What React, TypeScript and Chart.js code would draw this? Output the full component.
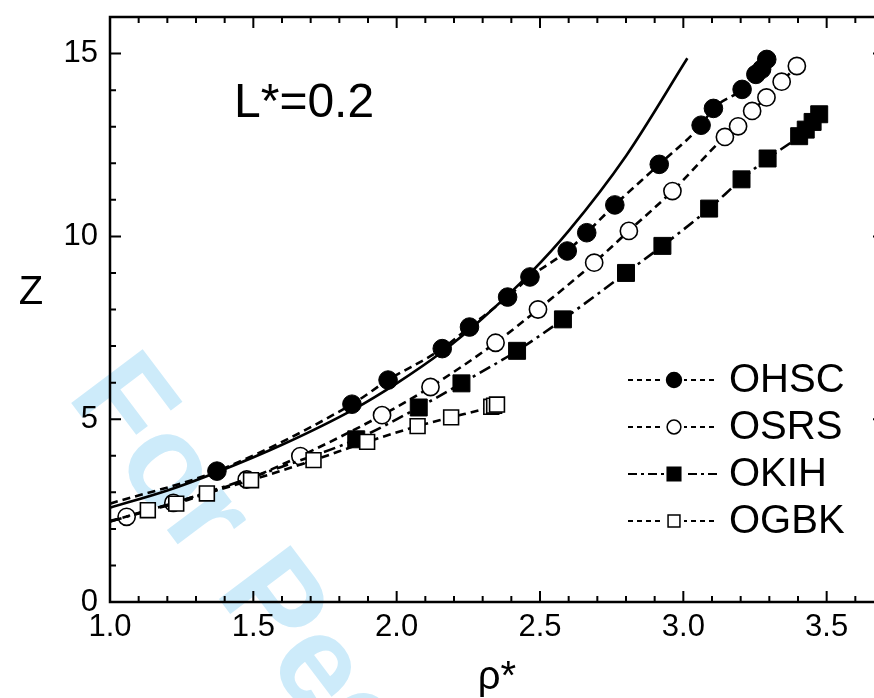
import React, { useEffect, useRef } from 'react';
import { Chart, registerables } from 'chart.js';

Chart.register(...registerables);

const FONT = '"Liberation Sans", Arial, Helvetica, sans-serif';

// ---- tick labels ----
const xTicks = [1.0, 1.5, 2.0, 2.5, 3.0, 3.5];
const yTicks = [0, 5, 10, 15];
const xMin = 1.0;
const xMax = 3.7;
const yMin = 0;
const yMax = 16;

// ---- theory curve (solid) ----
const theoryX = [1.0, 1.2, 1.373, 1.6, 1.85, 2.0, 2.16, 2.3, 2.467, 2.6, 2.8, 3.014];
const theoryY = [2.58, 3.05, 3.55, 4.3, 5.27, 5.98, 6.85, 7.76, 9.0, 10.15, 12.2, 14.87];

// ---- OHSC (filled circles) ----
const ohscLeadX = [1.0];
const ohscLeadY = [2.69];
const ohscX = [1.373, 1.844, 1.97, 2.159, 2.254, 2.387, 2.465, 2.595, 2.663, 2.761, 2.916, 3.062, 3.105, 3.205, 3.253, 3.273, 3.291];
const ohscY = [3.58, 5.41, 6.07, 6.93, 7.52, 8.34, 8.89, 9.6, 10.1, 10.86, 11.97, 13.04, 13.5, 14.02, 14.43, 14.57, 14.84];

// ---- OSRS (open circles) ----
const osrsLeadX = [1.0];
const osrsLeadY = [2.22];
const osrsX = [1.058, 1.221, 1.477, 1.664, 1.949, 2.118, 2.345, 2.493, 2.689, 2.81, 2.962, 3.145, 3.191, 3.24, 3.29, 3.343, 3.396];
const osrsY = [2.33, 2.71, 3.35, 3.99, 5.11, 5.88, 7.09, 8.0, 9.28, 10.15, 11.24, 12.72, 13.01, 13.43, 13.8, 14.23, 14.66];

// ---- OKIH (filled squares) ----
const okihLeadX = [1.0, 1.3, 1.6];
const okihLeadY = [2.2, 2.9, 3.7];
const okihX = [1.859, 2.077, 2.226, 2.42, 2.58, 2.8, 2.927, 3.09, 3.203, 3.294, 3.404, 3.427, 3.451, 3.474];
const okihY = [4.45, 5.32, 5.98, 6.87, 7.73, 9.0, 9.74, 10.76, 11.56, 12.13, 12.74, 12.92, 13.13, 13.34];

// ---- OGBK (open squares) ----
const ogbkLeadX = [1.0];
const ogbkLeadY = [2.2];
const ogbkX = [1.132, 1.231, 1.338, 1.492, 1.71, 1.897, 2.073, 2.19, 2.33, 2.34, 2.35];
const ogbkY = [2.51, 2.69, 2.97, 3.33, 3.88, 4.38, 4.81, 5.05, 5.34, 5.37, 5.4];

const legendLabels = ['OHSC', 'OSRS', 'OKIH', 'OGBK'];

type Style = { shape: 'circle' | 'rect'; filled: boolean; r: number; dash: number[] };
const styles: Style[] = [
  { shape: 'circle', filled: true, r: 9.3, dash: [8, 5] },
  { shape: 'circle', filled: false, r: 8.6, dash: [8, 5] },
  { shape: 'rect', filled: true, r: 12, dash: [12, 5, 3, 5] },
  { shape: 'rect', filled: false, r: 10.5, dash: [8, 5] },
];

function series(leadX: number[], leadY: number[], xs: number[], ys: number[], st: Style, order: number) {
  const data = [
    ...leadX.map((x, i) => ({ x, y: leadY[i] })),
    ...xs.map((x, i) => ({ x, y: ys[i] })),
  ];
  const n = leadX.length;
  return {
    data,
    showLine: true,
    borderColor: '#000',
    borderWidth: 2.6,
    borderDash: st.dash,
    cubicInterpolationMode: 'monotone' as const,
    pointStyle: st.shape,
    pointRadius: (c: any) => (c.dataIndex < n ? 0 : st.r),
    pointBackgroundColor: st.filled ? '#000' : '#fff',
    pointBorderColor: '#000',
    pointBorderWidth: st.filled ? 1 : 1.6,
    order,
  };
}

function drawMarker(ctx: CanvasRenderingContext2D, x: number, y: number, st: Style, scale: number) {
  ctx.save();
  ctx.setLineDash([]);
  ctx.fillStyle = st.filled ? '#000' : '#fff';
  ctx.strokeStyle = '#000';
  ctx.lineWidth = 1.5;
  ctx.beginPath();
  if (st.shape === 'circle') {
    ctx.arc(x, y, st.r * scale, 0, Math.PI * 2);
  } else {
    const h = st.r * Math.SQRT1_2 * scale;
    ctx.rect(x - h, y - h, 2 * h, 2 * h);
  }
  ctx.fill();
  ctx.stroke();
  ctx.restore();
}

const decor = {
  id: 'decor',
  beforeDraw(chart: any) {
    const ctx = chart.ctx as CanvasRenderingContext2D;
    ctx.save();
    ctx.translate(66, 396);
    ctx.rotate((53 * Math.PI) / 180);
    ctx.font = `bold 130px ${FONT}`;
    ctx.fillStyle = '#cdebfa';
    ctx.textBaseline = 'alphabetic';
    ctx.fillText('For Peer Review', 0, 0);
    ctx.restore();
  },
  afterDraw(chart: any) {
    const ctx = chart.ctx as CanvasRenderingContext2D;
    const { left, right, top, bottom } = chart.chartArea;
    const xs = chart.scales.x;
    const ys = chart.scales.y;
    ctx.save();
    ctx.strokeStyle = '#000';
    ctx.setLineDash([]);
    // ticks
    ctx.lineWidth = 2;
    ctx.beginPath();
    for (let i = 0; i <= Math.round((xMax - xMin) * 10); i++) {
      const v = xMin + i * 0.1;
      const major = xTicks.some((t) => Math.abs(t - v) < 1e-6);
      const len = major ? 11 : 6;
      const px = xs.getPixelForValue(v);
      ctx.moveTo(px, bottom);
      ctx.lineTo(px, bottom - len);
      ctx.moveTo(px, top);
      ctx.lineTo(px, top + len);
    }
    for (let v = yMin; v <= yMax; v++) {
      const major = yTicks.includes(v);
      const len = major ? 11 : 6;
      const py = ys.getPixelForValue(v);
      ctx.moveTo(left, py);
      ctx.lineTo(left + len, py);
      ctx.moveTo(right, py);
      ctx.lineTo(right - len, py);
    }
    ctx.stroke();
    // frame
    ctx.lineWidth = 2.5;
    ctx.strokeRect(left, top, right - left, bottom - top);

    // legend
    const rowY = [380, 427, 474, 521];
    legendLabels.forEach((lab, i) => {
      const st = styles[i];
      const y = rowY[i];
      ctx.save();
      ctx.lineWidth = 2.2;
      ctx.setLineDash(i === 2 ? [9, 4, 3, 4] : [5, 4]);
      ctx.beginPath();
      ctx.moveTo(628, y);
      ctx.lineTo(718, y);
      ctx.stroke();
      ctx.restore();
      ctx.fillStyle = '#fff';
      ctx.fillRect(664, y - 10, 20, 20);
      drawMarker(ctx, 674, y, st, 0.8);
      ctx.fillStyle = '#000';
      ctx.font = `40px ${FONT}`;
      ctx.textAlign = 'left';
      ctx.textBaseline = 'middle';
      ctx.fillText(lab, 729, y + 1);
    });

    // texts
    ctx.fillStyle = '#000';
    ctx.textBaseline = 'alphabetic';
    ctx.font = `48px ${FONT}`;
    ctx.textAlign = 'left';
    ctx.fillText('L*=0.2', 234, 117);
    ctx.font = `40px ${FONT}`;
    ctx.textAlign = 'center';
    ctx.fillText('Z', 31, 304);
    ctx.fillText('ρ*', 497, 689);
    ctx.restore();
  },
};

export default function App() {
  const ref = useRef<HTMLCanvasElement>(null);
  useEffect(() => {
    document.body.style.margin = '0';
    document.body.style.overflow = 'hidden';
    const canvas = ref.current!;
    const chart = new Chart(canvas, {
      type: 'scatter',
      data: {
        datasets: [
          {
            data: theoryX.map((x, i) => ({ x, y: theoryY[i] })),
            showLine: true,
            borderColor: '#000',
            borderWidth: 2.6,
            pointRadius: 0,
            cubicInterpolationMode: 'monotone',
            order: 5,
          } as any,
          series(ohscLeadX, ohscLeadY, ohscX, ohscY, styles[0], 4),
          series(osrsLeadX, osrsLeadY, osrsX, osrsY, styles[1], 3),
          series(okihLeadX, okihLeadY, okihX, okihY, styles[2], 2),
          series(ogbkLeadX, ogbkLeadY, ogbkX, ogbkY, styles[3], 1),
        ],
      },
      options: {
        responsive: false,
        animation: false,
        devicePixelRatio: 1,
        events: [],
        layout: { padding: { top: 17, right: 16, left: 0, bottom: 0 } },
        plugins: { legend: { display: false }, tooltip: { enabled: false } },
        scales: {
          x: {
            type: 'linear',
            min: xMin,
            max: xMax,
            grid: { display: false, drawTicks: false },
            border: { display: false },
            afterBuildTicks: (s: any) => {
              s.ticks = xTicks.map((v) => ({ value: v }));
            },
            afterFit: (s: any) => {
              s.height = 96;
              s.paddingLeft = 0;
              s.paddingRight = 0;
            },
            ticks: {
              padding: 7,
              color: '#000',
              font: { family: FONT, size: 31 },
              callback: (v: any) => Number(v).toFixed(1),
            },
          },
          y: {
            type: 'linear',
            min: yMin,
            max: yMax,
            grid: { display: false, drawTicks: false },
            border: { display: false },
            afterBuildTicks: (s: any) => {
              s.ticks = yTicks.map((v) => ({ value: v }));
            },
            afterFit: (s: any) => {
              s.width = 110;
              s.paddingTop = 0;
              s.paddingBottom = 0;
            },
            ticks: {
              padding: 12,
              color: '#000',
              font: { family: FONT, size: 31 },
              callback: (v: any) => String(v),
            },
          },
        },
      },
      plugins: [decor],
    });
    return () => chart.destroy();
  }, []);
  return (
    <div style={{ width: 874, height: 698, overflow: 'hidden', position: 'relative', background: '#fff' }}>
      <canvas ref={ref} width={900} height={698} style={{ display: 'block' }} />
    </div>
  );
}
